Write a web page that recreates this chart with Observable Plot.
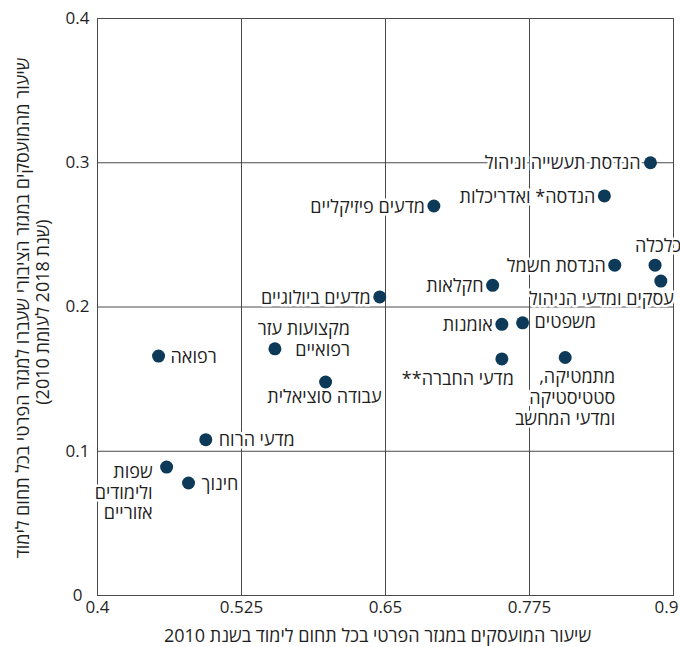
<!DOCTYPE html>
<html lang="he">
<head>
<meta charset="utf-8">
<script src="https://cdn.jsdelivr.net/npm/d3@7"></script>
<script src="https://cdn.jsdelivr.net/npm/@observablehq/plot@0.6"></script>
<style>
  html, body { margin: 0; padding: 0; background: #fff; }
  #chart svg { display: block; font-family: "Open Sans", "DejaVu Sans", sans-serif; }
</style>
</head>
<body>
<div id="chart"></div>
<script>
// ---- data ----
const fields = [
  "הנדסת תעשייה וניהול",
  "הנדסה* ואדריכלות",
  "מדעים פיזיקליים",
  "כלכלה",
  "הנדסת חשמל",
  "עסקים ומדעי הניהול",
  "חקלאות",
  "מדעים ביולוגיים",
  "אומנות",
  "משפטים",
  "מדעי החברה**\u200F",
  "מתמטיקה,\u200F\nסטטיסטיקה\nומדעי המחשב",
  "מקצועות עזר\nרפואיים",
  "רפואה",
  "עבודה סוציאלית",
  "מדעי הרוח",
  "שפות\nולימודים\nאזוריים",
  "חינוך"
];
const privateShare2010 = [0.880, 0.840, 0.692, 0.884, 0.849, 0.889, 0.743, 0.645, 0.751, 0.769, 0.751, 0.806, 0.554, 0.453, 0.598, 0.494, 0.460, 0.479];
const movedShare2018 = [0.300, 0.277, 0.270, 0.229, 0.229, 0.218, 0.215, 0.207, 0.188, 0.189, 0.164, 0.165, 0.171, 0.166, 0.148, 0.108, 0.089, 0.078];
const xTicks = [0.4, 0.525, 0.65, 0.775, 0.9];
const yTicks = [0, 0.1, 0.2, 0.3, 0.4];
const xTitle = "שיעור המועסקים במגזר הפרטי בכל תחום לימוד בשנת 2010";
const yTitle1 = "שיעור מהמועסקים במגזר הציבורי שעברו למגזר הפרטי בכל תחום לימוד";
const yTitle2 = "(שנת 2018 לעומת 2010)\u200F";

// ---- label placement (style only) ----
const placement = [
  {anchor: "end", dx: -10, dy: 0},
  {anchor: "end", dx: -9, dy: 0},
  {anchor: "end", dx: -9, dy: 0},
  {anchor: "middle", dx: 3, dy: -20},
  {anchor: "end", dx: -9, dy: 0},
  {anchor: "end", dx: 13, dy: 17},
  {anchor: "end", dx: -9, dy: 0},
  {anchor: "end", dx: -9, dy: 0},
  {anchor: "end", dx: -9, dy: 0},
  {anchor: "start", dx: 12, dy: -1},
  {anchor: "end", dx: 12, dy: 19},
  {anchor: "end", dx: 50, dy: 11, lineAnchor: "top"},
  {anchor: "end", dx: 75, dy: -10, lineAnchor: "middle"},
  {anchor: "start", dx: 12, dy: 0},
  {anchor: "end", dx: 56, dy: 14},
  {anchor: "start", dx: 13, dy: 0},
  {anchor: "end", dx: -14, dy: 25, lineAnchor: "middle"},
  {anchor: "start", dx: 13, dy: 0}
];

const rows = fields.map((f, i) => ({field: f, x: privateShare2010[i], y: movedShare2018[i]}));

const ink = "#1f1f1f";
const gridColor = "#4a4a4a";
const dotColor = "#0c3a58";
const labelSize = 18;
const titleSize = 18;
const tickSize = 17;

const labelMarks = rows.map((r, i) => {
  const p = placement[i];
  return Plot.text([r], {
    x: "x", y: "y", text: "field",
    textAnchor: p.anchor, dx: p.dx, dy: p.dy,
    lineAnchor: p.lineAnchor || "middle",
    lineHeight: 1.15,
    fontSize: labelSize, fill: ink,
    stroke: "white", strokeWidth: 5, paintOrder: "stroke"
  });
});

const lastTick = xTicks[xTicks.length - 1];

const chart = Plot.plot({
  width: 680,
  height: 647,
  marginLeft: 97,
  marginRight: 7,
  marginTop: 18,
  marginBottom: 52,
  style: {fontSize: "16px", color: ink, background: "white"},
  x: {domain: [0.4, 0.9], ticks: xTicks, label: null},
  y: {domain: [0, 0.4], ticks: yTicks, label: null},
  marks: [
    Plot.gridX(xTicks, {stroke: gridColor, strokeOpacity: 1, strokeWidth: 1}),
    Plot.gridY(yTicks, {stroke: gridColor, strokeOpacity: 1, strokeWidth: 1}),
    Plot.frame({stroke: gridColor, strokeWidth: 1}),
    Plot.axisX(xTicks.filter(t => t !== lastTick), {tickSize: 0, tickPadding: 5, fontSize: tickSize, fill: ink, tickFormat: d => String(d), label: null}),
    Plot.axisX([lastTick], {tickSize: 0, tickPadding: 5, textAnchor: "end", dx: 5, fontSize: tickSize, fill: ink, tickFormat: d => String(d), label: null}),
    Plot.axisY(yTicks, {tickSize: 0, tickPadding: 20, textAnchor: "middle", fontSize: tickSize, fill: ink, tickFormat: d => String(d), label: null}),
    Plot.text([xTitle], {frameAnchor: "bottom", textAnchor: "middle", lineAnchor: "middle", dx: -8, dy: 41, fontSize: titleSize, fill: ink, text: d => d}),
    Plot.text([yTitle1], {frameAnchor: "left", textAnchor: "middle", lineAnchor: "middle", dx: -74, dy: 1, rotate: -90, fontSize: titleSize, fill: ink, text: d => d}),
    Plot.text([yTitle2], {frameAnchor: "left", textAnchor: "middle", lineAnchor: "middle", dx: -54, dy: 5, rotate: -90, fontSize: titleSize, fill: ink, text: d => d}),
    ...labelMarks,
    Plot.dot(rows, {x: "x", y: "y", r: 6.5, fill: dotColor, stroke: "none"})
  ]
});
document.getElementById("chart").appendChild(chart);
</script>
</body>
</html>
